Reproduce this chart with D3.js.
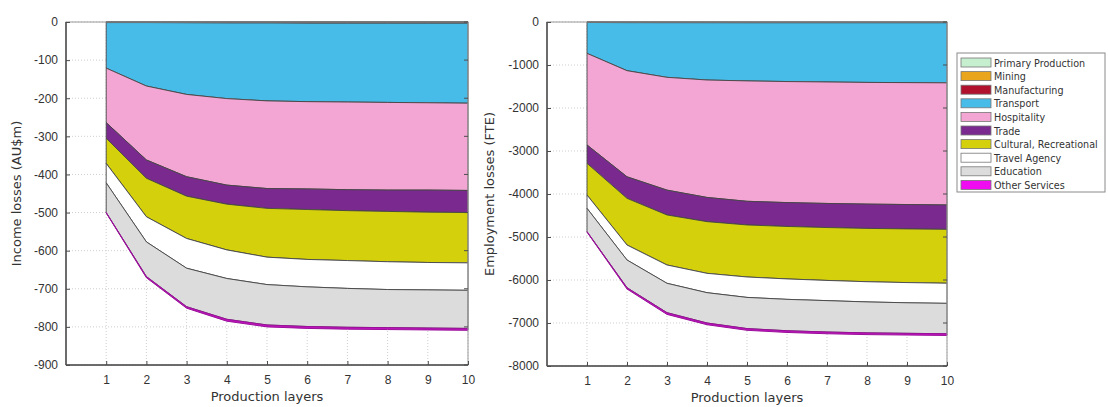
<!DOCTYPE html>
<html>
<head>
<meta charset="utf-8">
<script src="https://cdn.jsdelivr.net/npm/d3@7"></script>
<style>
  html, body { margin: 0; padding: 0; background: #fff; }
  svg { display: block; font-family: "DejaVu Sans", Verdana, sans-serif; }
</style>
</head>
<body>
<svg id="chart" width="1108" height="407"></svg>
<script>
// Production layers on the x axis
const layers = [1, 2, 3, 4, 5, 6, 7, 8, 9, 10];

const sectors = ["Primary Production", "Mining", "Manufacturing", "Transport", "Hospitality",
                 "Trade", "Cultural, Recreational", "Travel Agency", "Education", "Other Services"];

// Income losses (AU$m) by sector, per production layer
const incomePrimary       = [-0.3, -0.3, -0.3, -0.3, -0.3, -0.3, -0.3, -0.3, -0.3, -0.3];
const incomeMining        = [-0.2, -0.2, -0.2, -0.2, -0.2, -0.2, -0.2, -0.2, -0.2, -0.2];
const incomeManufacturing = [-1, -1, -1.5, -2, -2, -2.5, -2.5, -2.5, -2.5, -2.5];
const incomeTransport     = [-119.5, -166.5, -188, -198.5, -204.5, -206, -207, -208, -209, -210];
const incomeHospitality   = [-143, -194, -216, -227, -230, -229, -230, -230, -229, -229];
const incomeTrade         = [-41, -48, -51, -50, -52, -54, -55, -56, -58, -58];
const incomeCultural      = [-66, -101, -111, -120, -128, -131, -131, -132, -132, -132];
const incomeTravel        = [-51, -66, -78, -75, -72, -72, -73, -73, -72, -72];
const incomeEducation     = [-78, -91, -101, -107, -106, -104, -102, -100, -100, -100];
const incomeOther         = [-1, -3, -4, -5, -5, -5, -5, -5, -5, -5];

// Employment losses (FTE) by sector, per production layer
const jobsPrimary       = [-4, -5, -5, -5, -6, -6, -6, -6, -6, -6];
const jobsMining        = [-1, -2, -2, -2, -2, -2, -2, -2, -2, -2];
const jobsManufacturing = [-6, -8, -9, -10, -10, -10, -10, -10, -10, -10];
const jobsTransport     = [-718, -1117, -1271, -1332, -1352, -1367, -1377, -1387, -1392, -1397];
const jobsHospitality   = [-2131, -2468, -2623, -2731, -2800, -2815, -2825, -2830, -2835, -2840];
const jobsTrade         = [-427, -501, -578, -563, -550, -555, -560, -565, -567, -567];
const jobsCultural      = [-736, -1085, -1163, -1202, -1210, -1220, -1230, -1240, -1248, -1253];
const jobsTravel        = [-310, -349, -426, -450, -475, -475, -470, -470, -470, -468];
const jobsEducation     = [-543, -645, -683, -705, -725, -730, -730, -720, -710, -707];
const jobsOther         = [-10, -30, -40, -40, -40, -40, -40, -40, -40, -40];

const incomeTicks = [0, -100, -200, -300, -400, -500, -600, -700, -800, -900];
const jobsTicks = [0, -1000, -2000, -3000, -4000, -5000, -6000, -7000, -8000];

const incomeSeries = [incomePrimary, incomeMining, incomeManufacturing, incomeTransport, incomeHospitality,
                      incomeTrade, incomeCultural, incomeTravel, incomeEducation, incomeOther];
const jobsSeries = [jobsPrimary, jobsMining, jobsManufacturing, jobsTransport, jobsHospitality,
                    jobsTrade, jobsCultural, jobsTravel, jobsEducation, jobsOther];

const fills = ["#c6efcf", "#e9a51c", "#b0122e", "#48bce9", "#f3a6d3",
               "#7a2a8e", "#d5d00c", "#ffffff", "#dcdcdc", "#c214c0"];
const legendFills = fills.slice(0, 9).concat(["#f00cf0"]);

const svg = d3.select("#chart");

function buildRows(series) {
  return layers.map((l, i) => {
    const row = { layer: l };
    sectors.forEach((s, k) => { row[s] = series[k][i]; });
    return row;
  });
}

function drawPanel(opt) {
  const x = d3.scaleLinear().domain([0, 10]).range([opt.left, opt.right]);
  const y = d3.scaleLinear().domain([opt.ymin, 0]).range([opt.bottom, opt.top]);
  const g = svg.append("g");

  // dotted grid
  g.selectAll(".gy").data(opt.yTicks).join("line")
    .attr("x1", opt.left).attr("x2", opt.right)
    .attr("y1", d => y(d)).attr("y2", d => y(d))
    .attr("stroke", "#cfcfcf").attr("stroke-width", 1).attr("stroke-dasharray", "1,2");
  g.selectAll(".gx").data(layers).join("line")
    .attr("x1", d => x(d)).attr("x2", d => x(d))
    .attr("y1", opt.top).attr("y2", opt.bottom)
    .attr("stroke", "#cfcfcf").attr("stroke-width", 1).attr("stroke-dasharray", "1,2");

  // stacked areas, stacked downward from zero
  const rows = buildRows(opt.series);
  const stack = d3.stack().keys(sectors).offset(d3.stackOffsetDiverging);
  const stacked = stack(rows);
  const area = d3.area()
    .x(d => x(d.data.layer))
    .y0(d => y(d[0]))
    .y1(d => y(d[1]));
  g.selectAll(".band").data(stacked).join("path")
    .attr("d", area)
    .attr("fill", (d, i) => fills[i])
    .attr("stroke", (d, i) => i === 9 ? "#9a109a" : "#454545")
    .attr("stroke-width", (d, i) => i === 9 ? 1 : 0.9)
    .attr("stroke-linejoin", "round");

  // axes box with inward ticks
  const axisColor = "#4d4d4d";
  g.append("rect")
    .attr("x", opt.left).attr("y", opt.top)
    .attr("width", opt.right - opt.left).attr("height", opt.bottom - opt.top)
    .attr("fill", "none").attr("stroke", "#9a9a9a").attr("stroke-width", 1);
  g.append("line").attr("x1", opt.left).attr("x2", opt.left)
    .attr("y1", opt.top).attr("y2", opt.bottom).attr("stroke", axisColor).attr("stroke-width", 1.5);
  g.append("line").attr("x1", opt.left).attr("x2", opt.right)
    .attr("y1", opt.bottom).attr("y2", opt.bottom).attr("stroke", axisColor).attr("stroke-width", 1.5);

  const yAxis = d3.axisLeft(y).tickValues(opt.yTicks).tickSize(-4).tickPadding(8).tickFormat(d => String(d));
  const ya = g.append("g").attr("transform", `translate(${opt.left},0)`).call(yAxis);
  const xAxis = d3.axisBottom(x).tickValues(layers).tickSize(-4).tickPadding(10).tickFormat(d => String(d));
  const xa = g.append("g").attr("transform", `translate(0,${opt.bottom})`).call(xAxis);
  [ya, xa].forEach(a => {
    a.select(".domain").remove();
    a.selectAll(".tick line").attr("stroke", axisColor);
    a.selectAll(".tick text").attr("fill", "#333").style("font-size", "12px");
  });
  // right-side ticks
  g.selectAll(".rt").data(opt.yTicks).join("line")
    .attr("x1", opt.right - 4).attr("x2", opt.right)
    .attr("y1", d => y(d)).attr("y2", d => y(d))
    .attr("stroke", axisColor);

  g.append("text")
    .attr("x", (opt.left + opt.right) / 2).attr("y", opt.bottom + 36)
    .attr("text-anchor", "middle").attr("fill", "#333").style("font-size", "13px")
    .text("Production layers");
  g.append("text")
    .attr("transform", `translate(${opt.ylabelX},${(opt.top + opt.bottom) / 2}) rotate(-90)`)
    .attr("text-anchor", "middle").attr("fill", "#333").style("font-size", "13px")
    .text(opt.ylabel);
}

drawPanel({
  series: incomeSeries, yTicks: incomeTicks, ymin: -900,
  left: 66, right: 468, top: 22, bottom: 365,
  ylabel: "Income losses (AU$m)", ylabelX: 21
});
drawPanel({
  series: jobsSeries, yTicks: jobsTicks, ymin: -8000,
  left: 547, right: 947, top: 22, bottom: 366,
  ylabel: "Employment losses (FTE)", ylabelX: 494
});

// legend
const lg = svg.append("g").attr("transform", "translate(957,53)");
lg.append("rect").attr("width", 148).attr("height", 139)
  .attr("fill", "#fff").attr("stroke", "#8a8a8a").attr("stroke-width", 1);
const item = lg.selectAll(".item").data(sectors).join("g")
  .attr("transform", (d, i) => `translate(4,${5 + i * 13.6})`);
item.append("rect").attr("width", 30).attr("height", 9)
  .attr("fill", (d, i) => legendFills[i]).attr("stroke", "#777").attr("stroke-width", 0.8);
item.append("text").attr("x", 33).attr("y", 8.5)
  .attr("fill", "#333").style("font-size", "9.6px")
  .text(d => d);
</script>
</body>
</html>
